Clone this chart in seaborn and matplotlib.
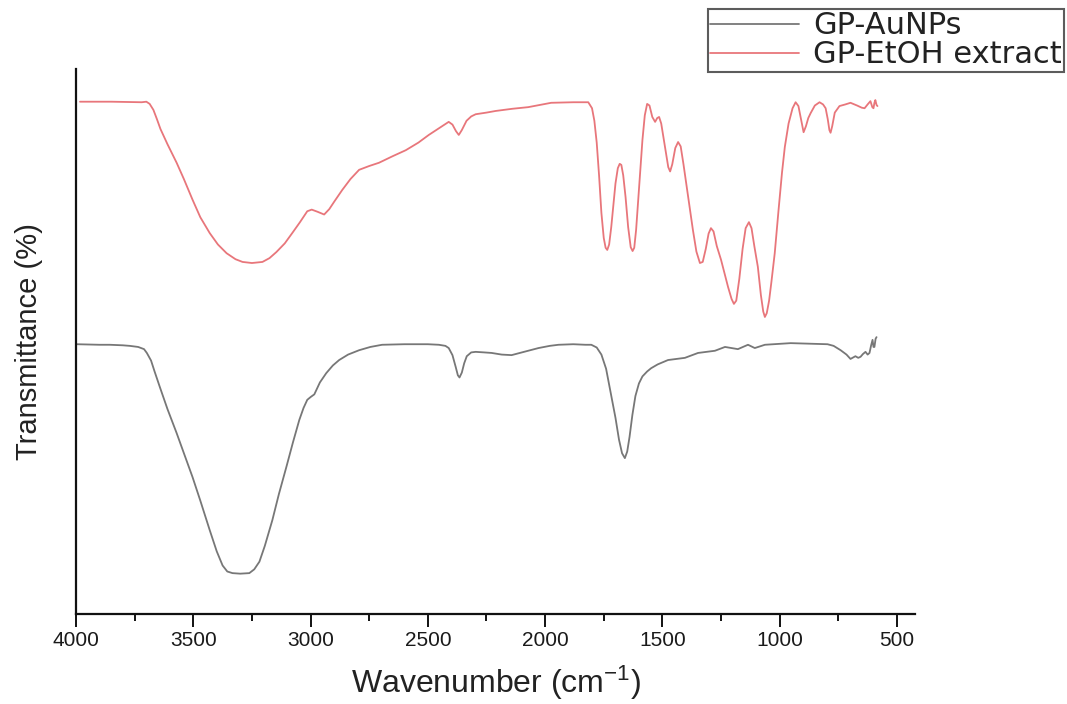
import matplotlib
matplotlib.use("Agg")
import matplotlib.pyplot as plt
import seaborn as sns
import pandas as pd
from matplotlib.ticker import MultipleLocator

# FTIR spectra (arbitrary transmittance units, curves offset for clarity)
au_wavenumber = [3996, 3900, 3856, 3800, 3771, 3735, 3710, 3698, 3680, 3665,
                 3643, 3610, 3571, 3540, 3503, 3470, 3430, 3400, 3375, 3355,
                 3333, 3300, 3261, 3240, 3218, 3195, 3163, 3135, 3103, 3075,
                 3048, 3030, 3014, 3000, 2984, 2960, 2933, 2905, 2878, 2840,
                 2793, 2745, 2695, 2600, 2500, 2453, 2425, 2411, 2395, 2381,
                 2372, 2365, 2355, 2345, 2334, 2315, 2296, 2260, 2228, 2185,
                 2143, 2090, 2028, 1980, 1943, 1880, 1828, 1803, 1780, 1760,
                 1740, 1720, 1700, 1685, 1672, 1660, 1650, 1640, 1628, 1615,
                 1600, 1585, 1565, 1548, 1520, 1476, 1404, 1348, 1276, 1233,
                 1178, 1135, 1106, 1063, 953, 796, 770, 740, 715, 698,
                 677, 665, 655, 645, 634, 625, 617, 610, 604, 600,
                 596, 591, 587]
au_transmittance = [49.5, 49.4, 49.4, 49.3, 49.2, 49.0, 48.6, 47.9, 46.5, 44.5,
                    41.7, 37.6, 33.2, 29.5, 25.1, 20.8, 15.4, 11.5, 8.9, 7.8,
                    7.5, 7.4, 7.5, 8.2, 9.6, 12.5, 17.2, 22.0, 27.0, 31.5,
                    35.6, 37.8, 39.3, 39.8, 40.3, 42.5, 44.2, 45.6, 46.6, 47.6,
                    48.4, 49.0, 49.4, 49.5, 49.5, 49.4, 49.2, 48.8, 47.5, 45.3,
                    43.8, 43.4, 44.3, 46.0, 47.3, 48.0, 48.1, 48.0, 47.9, 47.6,
                    47.5, 48.1, 48.8, 49.2, 49.4, 49.5, 49.4, 49.4, 48.9, 47.6,
                    45.0, 40.5, 36.0, 32.0, 29.5, 28.6, 29.8, 32.5, 36.5, 40.0,
                    42.3, 43.6, 44.5, 45.1, 45.8, 46.6, 47.0, 47.9, 48.3, 49.0,
                    48.6, 49.4, 48.8, 49.4, 49.7, 49.5, 49.2, 48.4, 47.6, 46.8,
                    47.3, 47.0, 47.2, 47.7, 48.1, 47.6, 47.9, 49.3, 50.3, 49.0,
                    49.0, 50.5, 50.8]

etoh_wavenumber = [3983, 3850, 3720, 3700, 3686, 3670, 3655, 3640, 3610, 3571,
                   3540, 3503, 3470, 3430, 3395, 3358, 3320, 3290, 3250, 3205,
                   3175, 3146, 3110, 3078, 3045, 3014, 2995, 2970, 2942, 2920,
                   2900, 2865, 2830, 2793, 2750, 2708, 2650, 2594, 2540, 2496,
                   2450, 2411, 2395, 2380, 2368, 2355, 2335, 2315, 2296, 2250,
                   2211, 2140, 2072, 1974, 1880, 1816, 1800, 1790, 1780, 1770,
                   1760, 1750, 1742, 1735, 1727, 1718, 1708, 1700, 1690, 1682,
                   1675, 1667, 1657, 1646, 1635, 1627, 1620, 1612, 1603, 1595,
                   1585, 1575, 1565, 1555, 1543, 1531, 1522, 1514, 1505, 1490,
                   1475, 1467, 1458, 1445, 1433, 1422, 1410, 1398, 1385, 1370,
                   1355, 1340, 1328, 1315, 1303, 1293, 1282, 1268, 1250, 1235,
                   1220, 1205, 1195, 1185, 1172, 1158, 1145, 1131, 1120, 1108,
                   1093, 1080, 1070, 1063, 1055, 1045, 1035, 1021, 1005, 990,
                   978, 962, 945, 932, 920, 910, 898, 888, 878, 868,
                   850, 830, 815, 804, 795, 788, 783, 776, 765, 745,
                   720, 698, 670, 650, 638, 625, 613, 605, 600, 596,
                   592, 587, 583]
etoh_transmittance = [94.0, 94.0, 93.9, 94.0, 93.6, 92.5, 90.8, 89.0, 86.2, 82.8,
                      79.8, 76.0, 72.8, 69.9, 67.8, 66.2, 65.1, 64.6, 64.4, 64.6,
                      65.3, 66.4, 68.0, 69.9, 71.9, 73.9, 74.2, 73.8, 73.3, 74.3,
                      75.6, 77.8, 79.8, 81.5, 82.2, 82.8, 84.0, 85.1, 86.5, 87.9,
                      89.2, 90.3, 89.8, 88.6, 87.9, 88.8, 90.5, 91.3, 91.7, 92.0,
                      92.3, 92.7, 93.0, 93.8, 93.9, 93.9, 92.8, 90.5, 86.5, 80.5,
                      73.6, 69.0, 67.2, 66.8, 67.8, 71.0, 75.5, 79.0, 81.8, 82.6,
                      82.4, 80.5, 76.5, 71.0, 67.3, 66.6, 67.2, 70.5, 76.0, 81.0,
                      87.0, 91.5, 93.6, 93.3, 91.2, 90.3, 91.0, 91.2, 90.0, 86.0,
                      82.0, 81.2, 82.5, 85.5, 86.6, 85.8, 82.5, 79.0, 75.0, 70.5,
                      66.5, 64.4, 64.6, 67.0, 69.8, 70.8, 70.2, 67.5, 65.0, 62.5,
                      60.0, 57.8, 56.9, 57.5, 61.5, 67.0, 70.8, 71.9, 70.8, 67.5,
                      63.7, 58.5, 55.5, 54.5, 55.2, 57.5, 61.0, 66.2, 74.0, 81.0,
                      85.7, 90.0, 92.8, 93.9, 93.2, 91.0, 88.4, 89.5, 91.0, 91.9,
                      93.3, 93.9, 93.5, 92.8, 90.8, 88.8, 88.3, 89.5, 92.0, 93.2,
                      93.5, 93.8, 93.3, 92.9, 92.8, 93.5, 94.1, 93.0, 92.8, 93.8,
                      94.3, 93.4, 93.2]

x_ticks = [4000, 3500, 3000, 2500, 2000, 1500, 1000, 500]
series_labels = ["GP-AuNPs", "GP-EtOH extract"]
series_colors = ["#777777", "#e8767b"]

sns.set_style("white")
plt.rcParams["font.family"] = ["Liberation Sans", "DejaVu Sans"]
plt.rcParams["mathtext.fontset"] = "custom"
plt.rcParams["mathtext.rm"] = "Liberation Sans"
plt.rcParams["mathtext.it"] = "Liberation Sans:italic"

fig = plt.figure(figsize=(10.67, 7.04), dpi=100)
ax = fig.add_axes([76 / 1067, 1 - 614 / 704, (915 - 76) / 1067, (614 - 69) / 704])

df_au = pd.DataFrame({"w": au_wavenumber, "t": au_transmittance})
df_etoh = pd.DataFrame({"w": etoh_wavenumber, "t": etoh_transmittance})

sns.lineplot(data=df_au, x="w", y="t", ax=ax, color=series_colors[0],
             linewidth=1.3, label=series_labels[0], estimator=None)
sns.lineplot(data=df_etoh, x="w", y="t", ax=ax, color=series_colors[1],
             linewidth=1.3, label=series_labels[1], estimator=None)

ax.set_xlim(4000, 423)
ax.set_ylim(0, 100)
ax.set_xticks(x_ticks)
ax.xaxis.set_minor_locator(MultipleLocator(250))
ax.set_yticks([])

for side in ["top", "right"]:
    ax.spines[side].set_visible(False)
for side in ["left", "bottom"]:
    ax.spines[side].set_color("#111111")
    ax.spines[side].set_linewidth(1.6)

ax.tick_params(axis="x", which="major", direction="out", length=9, width=1.4,
               color="#111111", labelsize=15, pad=3, bottom=True,
               labelcolor="#1a1a1a")
ax.tick_params(axis="x", which="minor", direction="out", length=5, width=1.4,
               color="#111111", bottom=True)

ax.set_xlabel("Wavenumber (cm$^{-1}$)", fontsize=23, labelpad=10, color="#222222")
ax.set_ylabel("Transmittance (%)", fontsize=21, labelpad=24, color="#222222")

leg = ax.legend(loc="upper right", bbox_to_anchor=(1064 / 1067, 1 - 9 / 704),
                bbox_transform=fig.transFigure, borderaxespad=0,
                fancybox=False, frameon=True, edgecolor="#333333",
                prop={"family": "DejaVu Sans", "size": 22},
                handlelength=2.9, handletextpad=0.45, labelspacing=0.0,
                borderpad=0.08)
leg.get_frame().set_linewidth(1.5)
for line in leg.get_lines():
    line.set_linewidth(1.3)
for text in leg.get_texts():
    text.set_color("#222222")

fig.savefig("out.png", dpi=100)
